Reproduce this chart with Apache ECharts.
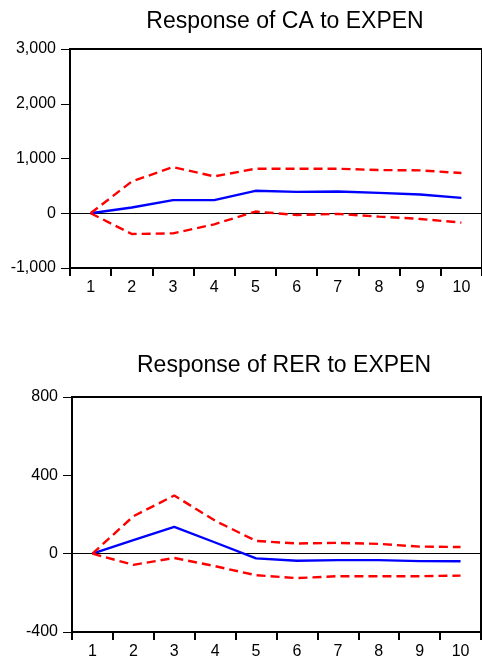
<!DOCTYPE html>
<html>
<head>
<meta charset="utf-8">
<script src="https://cdn.jsdelivr.net/npm/echarts@6/dist/echarts.min.js"></script>
<style>
  html, body { margin: 0; padding: 0; background: #fff; }
  #main { width: 482px; height: 660px; }
</style>
</head>
<body>
<div id="main"></div>
<script>
'use strict';

// periods
var periods = ['1', '2', '3', '4', '5', '6', '7', '8', '9', '10'];

// Response of CA to EXPEN
var caResp  = [0, 104, 239, 239, 410, 391, 398, 373, 343, 281];
var caUpper = [0, 581, 844, 673, 813, 813, 813, 789, 783, 734];
var caLower = [0, -379, -367, -202, 31, -31, -12, -61, -104, -171];

// Response of RER to EXPEN
var rerResp  = [0, 69, 137, 57, -24, -36, -33, -33, -38, -39];
var rerUpper = [0, 191, 297, 168, 65, 52, 55, 50, 36, 34];
var rerLower = [0, -57, -22, -64, -110, -125, -115, -115, -115, -112];

var titles = ['Response of CA to EXPEN', 'Response of RER to EXPEN'];

var font = "'Liberation Sans', Arial, sans-serif";

function commas(v) {
  var s = String(Math.abs(v)).replace(/\B(?=(\d{3})+(?!\d))/g, ',');
  return (v < 0 ? '-' : '') + s;
}

function xAx(idx) {
  return {
    type: 'category', gridIndex: idx, data: periods, boundaryGap: true,
    axisLine: { onZero: false, lineStyle: { color: '#000', width: 2 } },
    axisTick: { show: true, length: 8, lineStyle: { color: '#000', width: 2 } },
    axisLabel: { color: '#000', fontSize: 16, fontFamily: font, margin: 12 },
    splitLine: { show: false }
  };
}

function yAx(idx, min, max, step) {
  return {
    type: 'value', gridIndex: idx, min: min, max: max, interval: step,
    axisLine: { show: true, onZero: false, lineStyle: { color: '#000', width: 2 } },
    axisTick: { show: true, length: 9, lineStyle: { color: '#000', width: 1 } },
    axisLabel: { color: '#000', fontSize: 16, fontFamily: font, margin: 14, formatter: commas },
    splitLine: { show: false }
  };
}

function line(idx, data, color, dashed, zero) {
  var s = {
    type: 'line', xAxisIndex: idx, yAxisIndex: idx, data: data,
    symbol: 'none', silent: true, z: 3,
    lineStyle: { color: color, width: 2.4, type: dashed ? [9, 5] : 'solid' }
  };
  if (zero) {
    s.markLine = {
      silent: true, symbol: 'none', label: { show: false },
      lineStyle: { color: '#000', width: 1, type: 'solid' },
      data: [{ yAxis: 0 }], z: 2
    };
  }
  return s;
}

var chart = echarts.init(document.getElementById('main'));
chart.setOption({
  animation: false,
  backgroundColor: '#fff',
  title: [
    { text: titles[0], left: 280, top: 5, textAlign: 'center',
      textStyle: { fontFamily: font, fontSize: 23, fontWeight: 'normal', color: '#000' } },
    { text: titles[1], left: 279, top: 349, textAlign: 'center',
      textStyle: { fontFamily: font, fontSize: 23, fontWeight: 'normal', color: '#000' } }
  ],
  grid: [
    { left: 70, top: 49, width: 418, height: 219, show: true, borderColor: '#000', borderWidth: 2 },
    { left: 72, top: 397, width: 409, height: 235, show: true, borderColor: '#000', borderWidth: 2 }
  ],
  xAxis: [xAx(0), xAx(1)],
  yAxis: [yAx(0, -1000, 3000, 1000), yAx(1, -400, 800, 400)],
  series: [
    line(0, caResp, '#0000ff', false, true),
    line(0, caUpper, '#ff0000', true),
    line(0, caLower, '#ff0000', true),
    line(1, rerResp, '#0000ff', false, true),
    line(1, rerUpper, '#ff0000', true),
    line(1, rerLower, '#ff0000', true)
  ]
});
</script>
</body>
</html>
